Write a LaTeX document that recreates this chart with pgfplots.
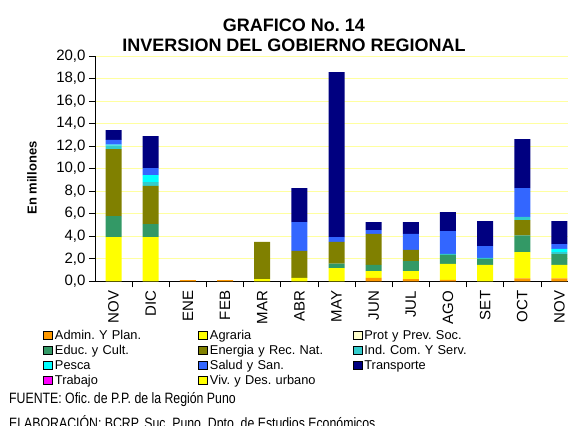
\documentclass[border=0pt]{standalone}
\usepackage{fontspec}
\setmainfont{Liberation Sans}
\newfontfamily\narrowfont[FakeStretch=0.82]{Liberation Sans}
\usepackage{pgfplots}
\usepackage{pgfplotstable}
\pgfplotsset{compat=1.18}
\definecolor{cadm}{RGB}{255,153,0}
\definecolor{cagr}{RGB}{255,255,0}
\definecolor{cpro}{RGB}{255,255,204}
\definecolor{cedu}{RGB}{51,153,102}
\definecolor{cene}{RGB}{128,128,0}
\definecolor{cind}{RGB}{51,204,204}
\definecolor{cpes}{RGB}{0,255,255}
\definecolor{csal}{RGB}{51,102,255}
\definecolor{ctra}{RGB}{0,0,128}
\definecolor{ctrab}{RGB}{255,0,255}
\definecolor{cviv}{RGB}{255,255,0}
\definecolor{cgrid}{RGB}{255,255,160}
\pgfplotstableread{
x adm agr pro edu ene ind pes sal tra
0 0 3.93 0 1.86 5.95 0.33 0.06 0.42 0.88
1 0 3.93 0 1.15 3.38 0.35 0.62 0.62 2.84
2 0.1 0 0 0 0 0 0 0 0
3 0.1 0 0 0 0 0 0 0 0
4 0 0.2 0 0 3.29 0 0 0 0
5 0 0.3 0 0 2.39 0 0 2.57 3.02
6 0 1.18 0 0.38 1.95 0 0 0.42 14.64
7 0.3 0.61 0 0.54 2.75 0 0 0.35 0.71
8 0.2 0.71 0 0.89 1.0 0 0 1.4 1.06
9 0.12 1.42 0 0.8 0 0.09 0 2.03 1.69
10 0 1.45 0 0.53 0 0.11 0 1.04 2.22
11 0.27 2.33 0 1.48 1.36 0.27 0 2.57 4.35
12 0.27 1.18 0 0.97 0 0.18 0.27 0.44 2.04
}\data
\begin{document}
\frenchspacing
\begin{tikzpicture}
\useasboundingbox (0,0) rectangle (568pt,426pt);
\clip (0,0) rectangle (568pt,426pt);
\begin{axis}[
  at={(95pt,144.7pt)}, anchor=south west,
  scale only axis, width=473pt, height=225.3pt,
  xmin=-0.5, xmax=12.23, ymin=0, ymax=20,
  ybar stacked, bar width=16pt,
  axis x line=bottom, axis y line=left,
  axis line style={-, line width=0.8pt, black},
  ytick={0,2,...,20},
  ymajorgrids, grid style={color=cgrid, line width=0.9pt},
  tick align=outside, major tick length=6pt,
  tick style={black, line width=0.7pt},
  /pgf/number format/assume math mode=true,
  yticklabel style={font=\fontsize{15}{15}\selectfont,
    /pgf/number format/fixed, /pgf/number format/fixed zerofill,
    /pgf/number format/precision=1, /pgf/number format/use comma},
  xtick={0,...,12},
  xticklabels={NOV,DIC,ENE,FEB,MAR,ABR,MAY,JUN,JUL,AGO,SET,OCT,NOV},
  xtick style={draw=none},
  xticklabel style={font=\fontsize{15}{15}\selectfont, rotate=90, anchor=east},
  extra x ticks={0.5,1.5,...,11.5},
  extra x tick labels={},
  extra x tick style={xtick style={draw=black, line width=0.7pt}, grid=none},
  legend image code/.code={\draw[#1] (0pt,0pt) rectangle (9pt,8pt);},
  legend columns=3,
  legend style={at={(-0.10994,-0.2162)}, anchor=north west, draw=none,
    inner sep=0pt, outer sep=0pt, row sep=3pt, column sep=0pt,
    font=\fontsize{12.8}{12.8}\selectfont\frenchspacing,
    nodes={inner sep=0pt, text height=9pt, text depth=3pt, anchor=base west, align=left},
    cells={anchor=base west},
    /tikz/every odd column/.append style={column sep=2pt},
    /tikz/every even column/.append style={text width=143pt, align=left}},
]
\addplot[fill=cadm, draw=none] table[x=x, y=adm] {\data};
\addlegendentry{Admin. Y Plan.}
\addplot[fill=cagr, draw=none] table[x=x, y=agr] {\data};
\addlegendentry{Agraria}
\addplot[fill=cpro, draw=none] table[x=x, y=pro] {\data};
\addlegendentry{Prot y Prev. Soc.}
\addplot[fill=cedu, draw=none] table[x=x, y=edu] {\data};
\addlegendentry{Educ. y Cult.}
\addplot[fill=cene, draw=none] table[x=x, y=ene] {\data};
\addlegendentry{Energia y Rec. Nat.}
\addplot[fill=cind, draw=none] table[x=x, y=ind] {\data};
\addlegendentry{Ind. Com. Y Serv.}
\addplot[fill=cpes, draw=none] table[x=x, y=pes] {\data};
\addlegendentry{Pesca}
\addplot[fill=csal, draw=none] table[x=x, y=sal] {\data};
\addlegendentry{Salud y San.}
\addplot[fill=ctra, draw=none] table[x=x, y=tra] {\data};
\addlegendentry{Transporte}
\addlegendimage{fill=ctrab, draw=black, line width=1pt}
\addlegendentry{Trabajo}
\addlegendimage{fill=cviv, draw=black, line width=1pt}
\addlegendentry{Viv. y Des. urbano}
\end{axis}
\node[anchor=base, font=\fontsize{18}{18}\selectfont\bfseries] at (294pt,394pt) {GRAFICO No. 14};
\node[anchor=base, font=\fontsize{18}{18}\selectfont\bfseries] at (294pt,374pt) {INVERSION DEL GOBIERNO REGIONAL};
\node[rotate=90, font=\fontsize{13}{13}\selectfont\bfseries] at (32pt,248pt) {En millones};
\node[anchor=base west, inner sep=0pt, font=\fontsize{15}{15}\narrowfont\frenchspacing] at (9pt,22pt) {FUENTE: Ofic. de P.P. de la Región Puno};
\node[anchor=base west, inner sep=0pt, font=\fontsize{15}{15}\narrowfont\frenchspacing] at (9pt,-2.7pt) {ELABORACIÓN: BCRP, Suc. Puno, Dpto. de Estudios Económicos.};
\end{tikzpicture}
\end{document}
